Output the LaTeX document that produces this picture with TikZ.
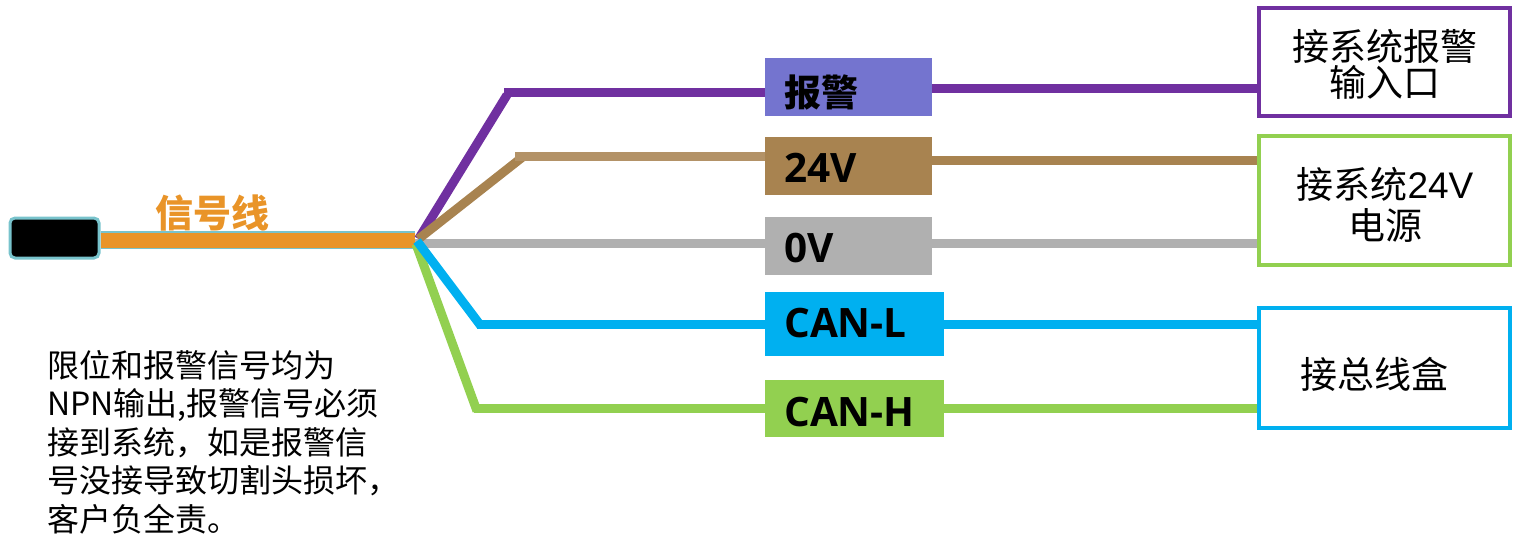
\documentclass[tikz,border=0pt]{standalone}
\usepackage{fontspec}
\setmainfont{Noto Sans CJK SC}
\newfontfamily\latinbold{Open Sans}
\newfontfamily\latinplain{Liberation Sans}
\usetikzlibrary{positioning}
\definecolor{viola}{HTML}{7030A0}
\definecolor{violachiaro}{HTML}{7474CF}
\definecolor{marrone}{HTML}{A88350}
\definecolor{marronechiaro}{HTML}{B39267}
\definecolor{grigio}{HTML}{B0B0B0}
\definecolor{azzurro}{HTML}{00B0F0}
\definecolor{verde}{HTML}{92D050}
\definecolor{arancio}{HTML}{E99428}
\definecolor{bordo}{HTML}{78C3CC}
\tikzset{
	wire/.style={line width=9pt,line cap=butt,line join=miter},
	wirelabel/.style={minimum height=#1,inner sep=0pt,anchor=north west},
	portbox/.style={draw,line width=4pt,fill=white,minimum width=251pt,inner sep=0pt},
	porttext/.style={inner sep=0pt,align=center,font=\fontsize{37}{41}\selectfont},
	tag/.style={anchor=west,inner sep=0pt,text=black,font=\fontsize{40.5}{40.5}\selectfont\bfseries\latinbold},
	cjktag/.style={anchor=west,inner sep=0pt,text=black,font=\fontsize{37}{37}\selectfont\bfseries}
}
\begin{document}
\begin{tikzpicture}[x=1pt,y=-1pt]
\useasboundingbox (0,0) rectangle (1519,536);
%punti di piega
\coordinate (J) at (415,240);
\coordinate (startA) at (418.5,239);
\coordinate (startB) at (418.5,239);
\coordinate (startL) at (417,241);
\coordinate (startH) at (416,244);
\coordinate (endA) at (507,95);
\coordinate (endB) at (522,157.5);
\coordinate (endL) at (481,326);
\coordinate (endH) at (477,411);
\coordinate (bendA) at (504,92.5);
\coordinate (bendB) at (515,156);
\coordinate (bendL) at (477,324.5);
\coordinate (bendH) at (474,408.5);
%etichette
\node[wirelabel=58pt,minimum width=167pt,fill=violachiaro] (alarm) at (765,58) {};
\node[wirelabel=58pt,minimum width=167pt,fill=marrone] (vpos) at (765,137) {};
\node[wirelabel=58pt,minimum width=167pt,fill=grigio] (vzero) at (765,217) {};
\node[wirelabel=64pt,minimum width=179pt,fill=azzurro] (canl) at (765,292) {};
\node[wirelabel=57pt,minimum width=179pt,fill=verde] (canh) at (765,380) {};
\node[cjktag] (alarmtext) at (784,92) {报警};
\node[tag] (vpostext) at (784,168) {24V};
\node[tag] (vzerotext) at (784,248) {0V};
\node[tag] (canltext) at (784,323) {CAN-L};
\node[tag] (canhtext) at (784,412) {CAN-H};
%fili a destra
\draw[wire,viola] (alarm.east |- 0,88) -- (1259,88);
\draw[wire,marrone] (vpos.east |- 0,160) -- (1259,160);
\draw[wire,grigio] (vzero.east |- 0,243.5) -- (1259,243.5);
\draw[wire,azzurro] (canl.east |- 0,324.5) -- (1259,324.5);
\draw[wire,verde] (canh.east |- 0,408) -- (1259,408);
%riquadri a destra
\node[portbox,draw=viola,minimum height=108pt] (alarmport) at (1384.5,62) {};
\node[portbox,draw=verde,minimum height=129pt] (powerport) at (1384.5,200.5) {};
\node[portbox,draw=azzurro,minimum height=120pt] (busport) at (1384.5,368) {};
\node[porttext] (alarmporttext) at (1385,64) {接系统报警\\[-5pt]输入口};
\node[porttext] (powerporttext) at (1385,204.5) {接系统{\latinplain 24V}\\电源};
\node[porttext] (busporttext) at (1374,374) {接总线盒};
%cavo
\node[font=\fontsize{38}{38}\selectfont\bfseries,text=arancio,inner sep=0pt] (cabletext) at (212,213) {信号线};
\node[draw=bordo,fill=black,line width=3pt,rounded corners=5pt,minimum width=89pt,minimum height=40pt,inner sep=0pt] (plug) at (54.5,238) {};
\draw[line width=18.6pt,bordo] (plug.east |- J) -- (J);
\draw[line width=14.4pt,arancio] (plug.east |- 0,240.5) -- (J |- 0,240.5);
%fili a sinistra
\draw[wire,grigio] (J |- 0,243.5) -- (vzero.west |- 0,243.5);
\draw[wire,viola] (startA) -- (endA);
\draw[wire,viola] (bendA) -- (alarm.west |- bendA);
\draw[wire,marrone] (startB) -- (endB);
\draw[wire,marronechiaro] (bendB) -- (vpos.west |- bendB);
\draw[wire,verde] (startH) -- (endH);
\draw[wire,verde] (bendH) -- (canh.west |- bendH);
\draw[wire,azzurro] (startL) -- (endL);
\draw[wire,azzurro] (bendL) -- (canl.west |- bendL);
%nota
\node[anchor=north west,inner sep=0pt,align=left,font=\fontsize{32}{38.5}\selectfont] (note) at (47,350) {限位和报警信号均为\\NPN输出,报警信号必须\\接到系统，如是报警信\\号没接导致切割头损坏，\\客户负全责。};
\end{tikzpicture}
\end{document}
